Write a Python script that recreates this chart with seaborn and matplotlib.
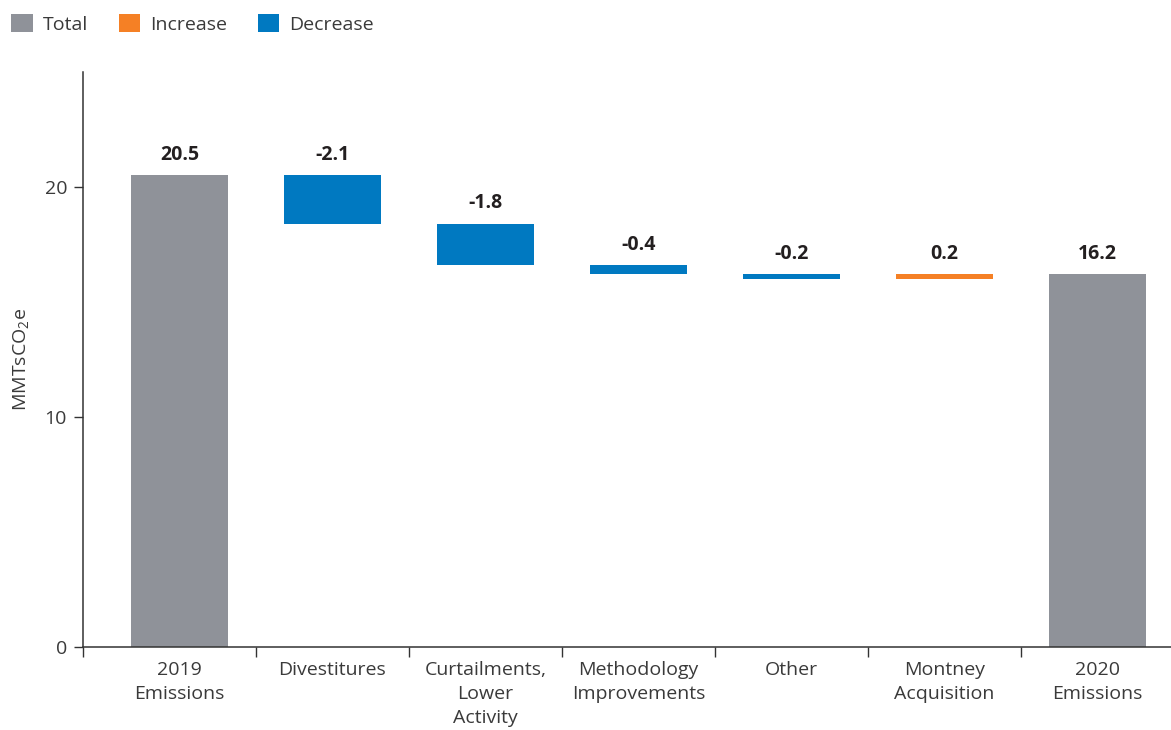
import numpy as np
import pandas as pd
import matplotlib.pyplot as plt
import seaborn as sns
from matplotlib.patches import Patch
from matplotlib.ticker import FixedLocator

# Data
categories = ["2019\nEmissions", "Divestitures", "Curtailments,\nLower\nActivity",
              "Methodology\nImprovements", "Other", "Montney\nAcquisition", "2020\nEmissions"]
values = [20.5, -2.1, -1.8, -0.4, -0.2, 0.2, 16.2]
kinds = ["Total", "Decrease", "Decrease", "Decrease", "Decrease", "Increase", "Total"]
value_labels = ["20.5", "-2.1", "-1.8", "-0.4", "-0.2", "0.2", "16.2"]

colors = {"Total": "#8f9299", "Increase": "#f58025", "Decrease": "#0079c1"}

# waterfall bottoms
bottoms = []
running = 0.0
for v, k in zip(values, kinds):
    if k == "Total":
        bottoms.append(0.0)
        running = v
    else:
        bottoms.append(running)
        running += v

df = pd.DataFrame({"category": categories, "value": values, "kind": kinds})

sns.set_style("white")
plt.rcParams['font.family'] = ['Open Sans', 'DejaVu Sans']
plt.rcParams['mathtext.fontset'] = 'custom'
plt.rcParams['mathtext.rm'] = 'Open Sans'

text_col = "#3a3a3a"

fig = plt.figure(figsize=(11.71, 7.30), dpi=100)
ax = fig.add_axes([0.0709, 0.1137, 0.9291, 0.7877])

sns.barplot(data=df, x="category", y="value", bottom=bottoms, errorbar=None,
            width=0.63, ax=ax, linewidth=0, color=colors["Total"], saturation=1)
for patch, k in zip(ax.patches, kinds):
    patch.set_facecolor(colors[k])
    patch.set_edgecolor("none")

# value labels
for i, (v, b, lab) in enumerate(zip(values, bottoms, value_labels)):
    top = max(b, b + v)
    ax.annotate(lab, (i, top), xytext=(0, 7.5), textcoords="offset points",
                ha="center", va="bottom", fontsize=14, fontweight="bold",
                color="#231f20")

ax.set_xlim(-0.63, 6.48)
ax.set_ylim(0, 25)
ax.set_yticks([0, 10, 20])
ax.set_xlabel("")
ax.set_ylabel(r"MMTsCO$_\mathregular{2}$e", fontsize=14, color=text_col)
ax.yaxis.set_label_coords(-0.047, 0.5)

for s in ["top", "right"]:
    ax.spines[s].set_visible(False)
for s in ["left", "bottom"]:
    ax.spines[s].set_color("#333333")
    ax.spines[s].set_linewidth(1.1)

ax.tick_params(axis="y", direction="out", length=6.5, width=1, color="#333333",
               labelsize=14, labelcolor=text_col, pad=5, left=True)
ax.tick_params(axis="x", which="major", length=0, labelsize=14,
               labelcolor=text_col, pad=10)
ax.xaxis.set_minor_locator(FixedLocator([-0.63, 0.5, 1.5, 2.5, 3.5, 4.5, 5.5]))
ax.tick_params(axis="x", which="minor", direction="out", length=7, width=1,
               color="#333333", bottom=True)
for t in ax.get_xticklabels():
    t.set_linespacing(1.45)

# legend
handles = [Patch(facecolor=colors[k], edgecolor="none", label=k)
           for k in ["Total", "Increase", "Decrease"]]
leg = fig.legend(handles=handles, loc="upper left", bbox_to_anchor=(-0.002, 1.0),
                 ncol=3, frameon=False, fontsize=14, handlelength=1.1,
                 handleheight=1.1, handletextpad=0.5, columnspacing=1.6,
                 borderaxespad=0.3)
for t in leg.get_texts():
    t.set_color(text_col)

fig.savefig("out.png", dpi=100)
